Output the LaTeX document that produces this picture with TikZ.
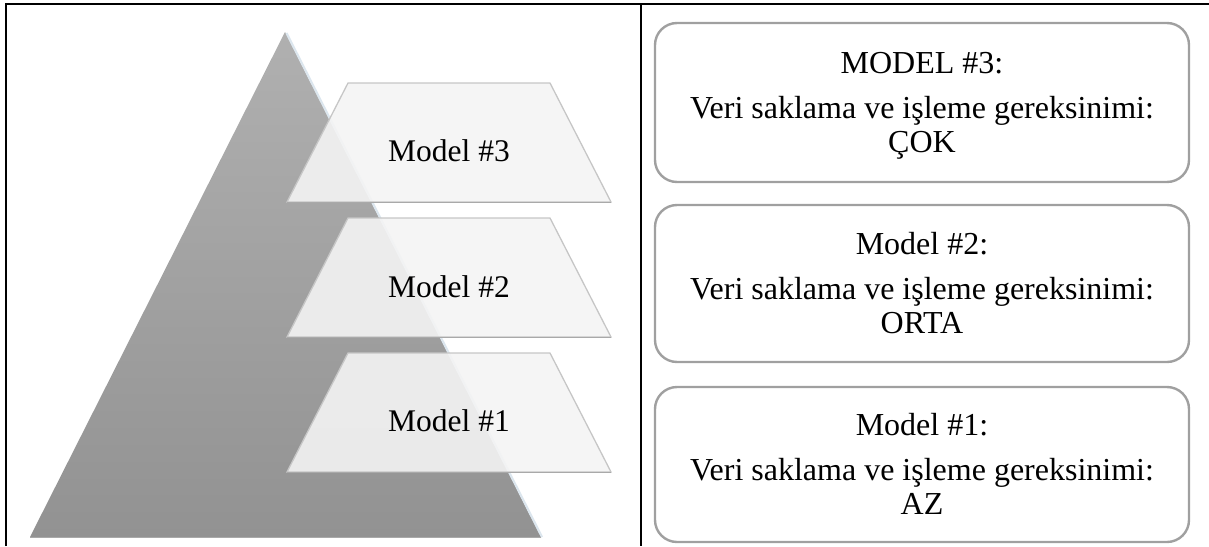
\documentclass[tikz,border=0pt]{standalone}
\usepackage{fontspec}
\setmainfont{Liberation Serif}
\definecolor{frameline}{HTML}{000000}
\definecolor{boxline}{HTML}{A0A0A0}
\definecolor{pyrtop}{HTML}{B0B0B0}
\definecolor{pyrbot}{HTML}{929292}
\definecolor{pyredge}{HTML}{DCE6EE}
\definecolor{trapfill}{HTML}{F4F4F4}
\definecolor{trapline}{HTML}{C6C6C6}
\definecolor{trapshadow}{HTML}{A9A9A9}
\begin{document}
\begin{tikzpicture}[x=1pt,y=-1pt,
  frame/.style={draw=frameline,line width=2.4pt},
  infobox/.style={draw=boxline,line width=2.4pt,rounded corners=22pt,
    minimum width=534pt,inner sep=0pt},
  boxtext/.style={font=\fontsize{32}{34}\selectfont,align=center,inner sep=0pt,anchor=north},
  layertext/.style={font=\fontsize{31.5}{31}\selectfont,inner sep=0pt,anchor=base},
  layer/.style={fill=trapfill,fill opacity=0.9,draw=trapline,line width=1.3pt}
]
\useasboundingbox (0,0) rectangle (1209,546);
% table frame
\draw[frame] (6,546) -- (6,4) -- (1209,4);
\draw[frame] (641,4) -- (641,546);
% pyramid
\shade[top color=pyrtop,bottom color=pyrbot] (285,32) -- (541,537) -- (30,537) -- cycle;
\draw[pyredge,line width=2.2pt] (286.5,33) -- (542,537);
\draw[trapshadow,line width=1pt] (30,537.5) -- (541,537.5);
% layers
\foreach \dy/\n in {0/3,135/2,270/1}{
  \begin{scope}[yshift=-\dy pt]
    \path[layer] (348,83) -- (550,83) -- (611,202) -- (287,202) -- cycle;
    \draw[trapshadow,line width=1.5pt] (287,202.5) -- (611,202.5);
  \end{scope}
}
\node[layertext] (l3) at (449,161) {Model \#3};
\node[layertext] (l2) at (449,297) {Model \#2};
\node[layertext] (l1) at (449,431) {Model \#1};
% right boxes
\node[infobox,minimum height=159pt] (b3) at (922,102.5) {};
\node[infobox,minimum height=157pt] (b2) at (922,283.5) {};
\node[infobox,minimum height=155pt] (b1) at (922,464.5) {};
\node[boxtext] (t3) at (922,52) {MODEL \#3:\\[11pt]Veri saklama ve işleme gereksinimi:\\ÇOK};
\node[boxtext] (t2) at (922,232.5) {Model \#2:\\[11pt]Veri saklama ve işleme gereksinimi:\\ORTA};
\node[boxtext] (t1) at (922,413) {Model \#1:\\[11pt]Veri saklama ve işleme gereksinimi:\\AZ};
\end{tikzpicture}
\end{document}
